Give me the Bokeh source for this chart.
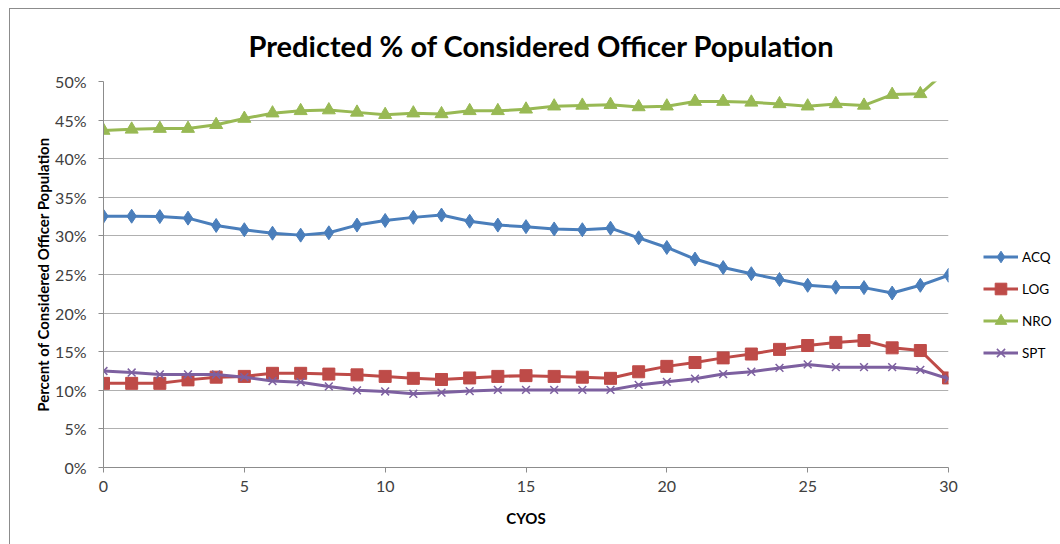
from bokeh.plotting import figure
from bokeh.models import Range1d, FixedTicker, PrintfTickFormatter, Legend, LegendItem
from bokeh.embed import file_html
from bokeh.resources import INLINE

# ---- data (percent of considered officer population) ----
cyos = list(range(31))
acq = [32.55, 32.55, 32.5, 32.3, 31.35, 30.8, 30.35, 30.1, 30.4, 31.4, 32.0, 32.4, 32.7, 31.9, 31.4, 31.2,
       30.9, 30.8, 31.0, 29.75, 28.5, 27.0, 25.9, 25.1, 24.35, 23.6, 23.35, 23.3, 22.6, 23.6, 24.9]
log = [10.9, 10.9, 10.9, 11.35, 11.7, 11.8, 12.2, 12.2, 12.1, 12.0, 11.8, 11.55, 11.4, 11.6, 11.8, 11.9,
       11.8, 11.7, 11.55, 12.4, 13.1, 13.6, 14.2, 14.7, 15.3, 15.8, 16.2, 16.45, 15.5, 15.15, 11.6]
nro = [43.65, 43.8, 43.9, 43.9, 44.4, 45.2, 45.9, 46.2, 46.3, 46.0, 45.7, 45.9, 45.8, 46.2, 46.2, 46.4,
       46.8, 46.9, 47.0, 46.7, 46.8, 47.4, 47.4, 47.3, 47.1, 46.8, 47.1, 46.9, 48.3, 48.4, 51.6]
spt = [12.5, 12.3, 12.05, 12.05, 12.05, 11.7, 11.2, 11.05, 10.5, 10.0, 9.85, 9.55, 9.7, 9.9, 10.05, 10.05,
       10.05, 10.05, 10.05, 10.7, 11.1, 11.5, 12.1, 12.4, 12.9, 13.35, 13.0, 13.0, 13.0, 12.65, 11.5]
series_names = ["ACQ", "LOG", "NRO", "SPT"]
x_ticks = [0, 5, 10, 15, 20, 25, 30]
y_ticks = [0, 5, 10, 15, 20, 25, 30, 35, 40, 45, 50]

FONT = "Lato"
p = figure(frame_width=845, frame_height=386, output_backend="svg", toolbar_location=None,
           x_range=Range1d(0, 30), y_range=Range1d(0, 50),
           min_border_left=93, min_border_right=100, min_border_top=72, min_border_bottom=77,
           title="Predicted % of Considered Officer Population")
p.styles = {"margin-left": "9px", "margin-top": "8px",
            "border-left": "1px solid #8c8c8c", "border-top": "1px solid #8c8c8c"}
p.outline_line_color = None
p.background_fill_color = "white"
p.border_fill_color = "white"

p.title.align = "left"
p.title.offset = 145
p.title.vertical_align = "top"
p.title.text_font = FONT
p.title.text_font_size = "29px"
p.title.text_font_style = "bold"
p.title.text_color = "#000000"
p.title.standoff = 34

# axes
for ax in (p.xaxis[0], p.yaxis[0]):
    ax.axis_line_color = "#8c8c8c"
    ax.major_tick_line_color = "#8c8c8c"
    ax.minor_tick_line_color = None
    ax.major_tick_out = 5
    ax.major_tick_in = 0
    ax.major_label_text_font = FONT
    ax.major_label_text_font_size = "16px"
    ax.major_label_text_color = "#404040"
    ax.axis_label_text_font = FONT
    ax.axis_label_text_font_style = "bold"
    ax.axis_label_text_font_size = "15px"
    ax.axis_label_text_color = "#000000"

p.xaxis[0].ticker = FixedTicker(ticks=x_ticks)
p.yaxis[0].ticker = FixedTicker(ticks=y_ticks)
p.yaxis[0].formatter = PrintfTickFormatter(format="%d%%")
p.xaxis[0].axis_label = "CYOS"
p.yaxis[0].axis_label = "Percent of Considered Officer Population"
p.xaxis[0].major_label_standoff = 8
p.yaxis[0].major_label_standoff = 12
p.xaxis[0].axis_label_standoff = 14
p.yaxis[0].axis_label_standoff = 0

p.xgrid.grid_line_color = None
p.ygrid.grid_line_color = "#b0b0b0"
p.ygrid.grid_line_width = 1.2

colors = ["#4A7EBB", "#BE4B48", "#98B954", "#7D60A0"]
data = [acq, log, nro, spt]
items = []
for name, ys, c in zip(series_names, data, colors):
    r_line = p.line(cyos, ys, line_color=c, line_width=3)
    if name == "ACQ":
        r_m = p.scatter(cyos, ys, marker="diamond", size=14, fill_color=c, line_color=c)
    elif name == "LOG":
        r_m = p.scatter(cyos, ys, marker="square", size=12, fill_color=c, line_color=c)
    elif name == "NRO":
        r_m = p.scatter(cyos, ys, marker="triangle", size=13, fill_color=c, line_color=c)
    else:
        r_m = p.scatter(cyos, ys, marker="x", size=11, line_color=c, line_width=1.5)
    items.append(LegendItem(label=name, renderers=[r_line, r_m]))

legend = Legend(items=items, location=(35, 100), orientation="vertical")
legend.border_line_color = None
legend.background_fill_alpha = 0
legend.label_text_font = FONT
legend.label_text_font_size = "13.5px"
legend.label_text_color = "#000000"
legend.glyph_width = 35
legend.glyph_height = 29
legend.label_height = 29
legend.spacing = 3
legend.padding = 0
legend.margin = 0
legend.label_standoff = 4
p.add_layout(legend, "right")

open("out.html", "w").write(file_html(p, INLINE))
